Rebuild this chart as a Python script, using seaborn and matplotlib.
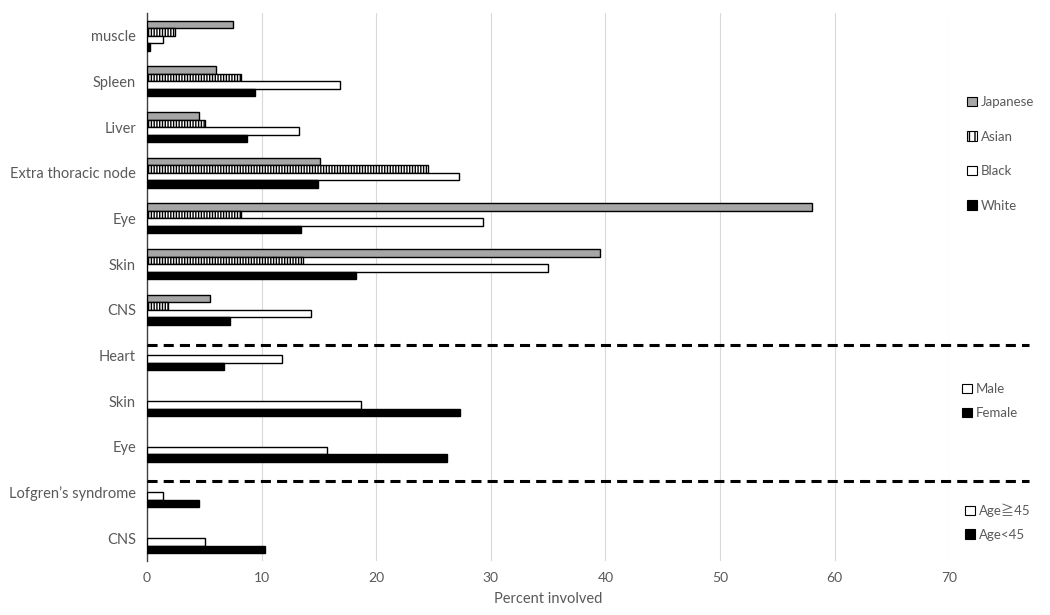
import matplotlib
matplotlib.use("Agg")
import matplotlib.pyplot as plt
from matplotlib.patches import Patch
import matplotlib.transforms as mtransforms
import seaborn as sns
import numpy as np
import pandas as pd

# values (percent involved)
race_sites = ["muscle", "Spleen", "Liver", "Extra thoracic node", "Eye", "Skin", "CNS"]
japanese = [7.5, 6.0, 4.5, 15.1, 58.0, 39.5, 5.5]
asian = [2.4, 8.2, 5.1, 24.5, 8.2, 13.6, 1.8]
black = [1.4, 16.8, 13.3, 27.2, 29.3, 35.0, 14.3]
white = [0.3, 9.4, 8.7, 14.9, 13.4, 18.2, 7.2]

sex_sites = ["Heart", "Skin", "Eye"]
male = [11.8, 18.7, 15.7]
female = [6.7, 27.3, 26.2]

age_sites = ["Lofgren\u2019s syndrome", "CNS"]
age_ge45 = [1.4, 5.1]
age_lt45 = [4.5, 10.3]

slots = ["Japanese", "Asian", "Black", "White"]

rows = []
for i, s in enumerate(race_sites):
    for slot, vals in zip(slots, [japanese, asian, black, white]):
        rows.append(("race:" + s, s, slot, vals[i]))
for i, s in enumerate(sex_sites):
    rows.append(("sex:" + s, s, "Black", male[i]))
    rows.append(("sex:" + s, s, "White", female[i]))
for i, s in enumerate(age_sites):
    rows.append(("age:" + s, s, "Black", age_ge45[i]))
    rows.append(("age:" + s, s, "White", age_lt45[i]))
df = pd.DataFrame(rows, columns=["key", "site", "slot", "value"])
order = list(dict.fromkeys(df["key"]))
labels = [k.split(":", 1)[1] for k in order]

sns.set_style("white")
plt.rcParams["font.family"] = ["Lato", "Noto Sans CJK SC", "DejaVu Sans"]
plt.rcParams["hatch.linewidth"] = 1.0

gray_txt = "#595959"
fig = plt.figure(figsize=(10.5, 6.15), dpi=100)
ax = fig.add_axes([0.14, 0.088, 0.764, 0.891])

palette = {"Japanese": "#a6a6a6", "Asian": "white", "Black": "white", "White": "black"}
sns.barplot(data=df, x="value", y="key", hue="slot", order=order, hue_order=slots,
            orient="h", width=0.66, palette=palette, saturation=1, edgecolor="black",
            linewidth=1.0, errorbar=None, legend=False, ax=ax, zorder=3)

for cont, slot in zip(ax.containers, slots):
    if slot == "Asian":
        for p in cont:
            p.set_hatch("||||||")

ax.set_xlim(0, 70)
ax.set_ylim(len(order) - 0.5, -0.5)
ax.set_xticks(range(0, 71, 10))
ax.grid(axis="x", color="#d9d9d9", linewidth=0.8, zorder=0)
ax.set_axisbelow(True)
ax.set_yticks(range(len(order)))
ax.set_yticklabels(labels)
ax.set_yticks(np.arange(-0.5, len(order), 1), minor=True)
ax.tick_params(axis="y", which="major", length=0, colors=gray_txt, labelsize=10.5, pad=8)
ax.tick_params(axis="y", which="minor", length=4, width=1, color="#404040", direction="out")
ax.tick_params(axis="x", length=0, colors=gray_txt, labelsize=10, pad=8)
ax.set_ylabel("")
ax.set_xlabel("Percent involved", color=gray_txt, fontsize=10.5, labelpad=6)
for sp in ["top", "right", "bottom"]:
    ax.spines[sp].set_visible(False)
ax.spines["left"].set_color("#404040")
ax.spines["left"].set_linewidth(1.0)

# dashed separators between the three comparisons
trans = mtransforms.blended_transform_factory(ax.transAxes, ax.transData)
for yv in [6.78, 9.76]:
    ax.plot([0, 1.10], [yv, yv], transform=trans, color="black", linewidth=2.2,
            linestyle=(0, (3.3, 2.0)), clip_on=False, zorder=4)

# legends
def mk(fc, hatch=None):
    return Patch(facecolor=fc, edgecolor="black", hatch=hatch, linewidth=0.8)

leg_kw = dict(frameon=False, handlelength=0.7, handleheight=0.7, handletextpad=0.3,
              loc="upper left", prop={"size": 9.5}, labelcolor=gray_txt, borderaxespad=0)
l1 = fig.legend([mk("#a6a6a6"), mk("white", "|||"), mk("white"), mk("black")],
                slots, bbox_to_anchor=(962 / 1050, 1 - 91 / 615), labelspacing=1.7, **leg_kw)
l2 = fig.legend([mk("white"), mk("black")], ["Male", "Female"],
                bbox_to_anchor=(957 / 1050, 1 - 378 / 615), labelspacing=0.9, **leg_kw)
l3 = fig.legend([mk("white"), mk("black")], ["Age\u226745", "Age<45"],
                bbox_to_anchor=(960 / 1050, 1 - 498 / 615), labelspacing=0.9, **leg_kw)

fig.savefig("out.png", dpi=100)
